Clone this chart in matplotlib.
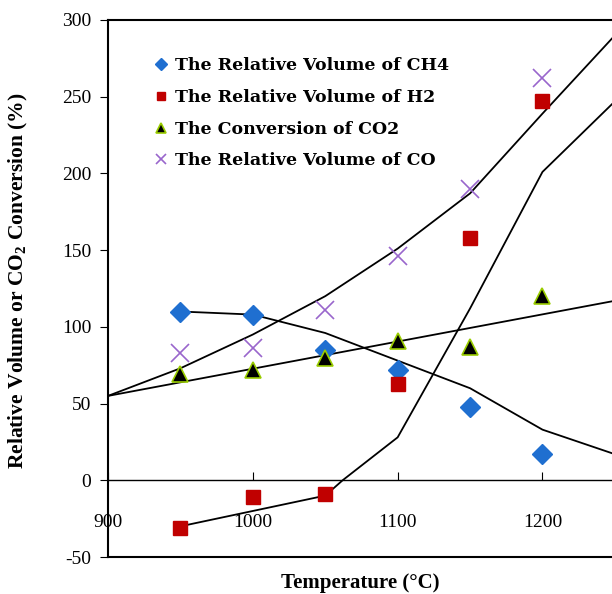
import numpy as np
import matplotlib
matplotlib.use("Agg")
from matplotlib import pyplot as plt

plt.rcParams['font.family'] = ['Liberation Serif', 'DejaVu Serif']
plt.rcParams['mathtext.fontset'] = 'custom'
plt.rcParams['mathtext.rm'] = 'Liberation Serif:bold'
plt.rcParams['mathtext.bf'] = 'Liberation Serif:bold'
plt.rcParams['axes.unicode_minus'] = False

# measured points
temps = [950, 1000, 1050, 1100, 1150, 1200]
ch4 = [110, 108, 85, 72, 48, 17]
h2 = [-31, -11, -9, 63, 158, 247]
co2 = [69, 72, 80, 91, 87, 120]
co = [83, 86, 111, 146, 190, 262]

# model lines
ch4_fit_t = [950, 1000, 1050, 1100, 1150, 1200, 1250]
ch4_fit = [110, 108, 96, 78, 60, 33, 17]
h2_fit_t = [950, 1000, 1050, 1062, 1100, 1150, 1200, 1250]
h2_fit = [-30, -20, -10, 0, 28, 112, 201, 247]
co2_fit_t = [900, 1250]
co2_fit = [55, 117]
co_fit_t = [900, 950, 1000, 1050, 1100, 1150, 1200, 1250]
co_fit = [55, 73, 95, 120, 151, 187, 239, 290]

labels = ['The Relative Volume of CH4', 'The Relative Volume of H2',
          'The Conversion of CO2', 'The Relative Volume of CO']

fig = plt.figure(figsize=(6.12, 5.94), dpi=100)
ax = fig.add_axes([108 / 612, 37 / 594, 504 / 612, 537 / 594])

for t, v in [(ch4_fit_t, ch4_fit), (h2_fit_t, h2_fit), (co2_fit_t, co2_fit), (co_fit_t, co_fit)]:
    ax.plot(t, v, color='black', lw=1.3, zorder=2)

ax.plot(temps, ch4, 'D', color='#1f6fd0', ms=10, mec='#1f6fd0', label=labels[0], zorder=3)
ax.plot(temps, h2, 's', color='#c00000', ms=10, label=labels[1], zorder=3)
ax.plot(temps, co2, '^', color='black', mec='#99cc00', mew=1.2, ms=11, label=labels[2], zorder=3)
ax.plot(temps, co, 'x', color='#9966cc', ms=13, mew=1.2, label=labels[3], zorder=3)

ax.set_xlim(900, 1248)
ax.set_ylim(-50, 300)
ax.set_xticks([900, 1000, 1100, 1200])
ax.set_yticks(np.arange(-50, 301, 50))

ax.spines['bottom'].set_position(('data', 0))
ax.spines['right'].set_visible(False)
ax.axhline(-50, color='black', lw=1.5, clip_on=False)
ax.spines['top'].set_linewidth(1.5)
ax.spines['left'].set_linewidth(1.5)
ax.spines['bottom'].set_linewidth(1.0)

ax.tick_params(axis='x', direction='in', length=6, pad=24, labelsize=14)
ax.tick_params(axis='y', direction='out', length=6, pad=6, labelsize=14)

ax.set_xlabel('Temperature (°C)', fontsize=15, fontweight='bold')
ax.xaxis.set_label_coords(0.5, -0.03)
ax.set_ylabel(r'Relative Volume or CO$_2$ Conversion (%)', fontsize=15.5, fontweight='bold')
ax.yaxis.set_label_coords(-0.155, 0.514)

leg = ax.legend(loc='upper left', bbox_to_anchor=(0.06, 0.96), frameon=False,
                markerscale=0.6, handlelength=0.8, handletextpad=0.4, labelspacing=0.85,
                prop={'family': 'DejaVu Serif', 'weight': 'bold', 'size': 12.5})

fig.savefig('out.png', dpi=100)
